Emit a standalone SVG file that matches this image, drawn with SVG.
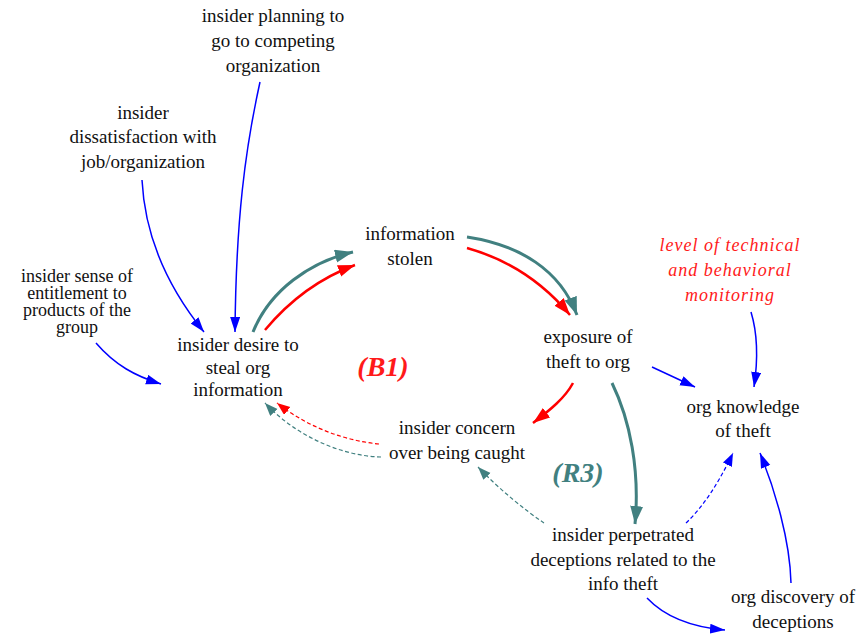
<svg xmlns="http://www.w3.org/2000/svg" width="863" height="635" viewBox="0 0 863 635">
  <defs>
    <marker id="ahBlue" markerUnits="userSpaceOnUse" markerWidth="16" markerHeight="12" refX="15" refY="5" orient="auto">
      <path d="M0,0 L15,5 L0,10 Z" fill="#0000ff"/>
    </marker>
    <marker id="ahTeal" markerUnits="userSpaceOnUse" markerWidth="20" markerHeight="14" refX="18" refY="6.5" orient="auto">
      <path d="M0,0 L18,6.5 L0,13 Z" fill="#418080"/>
    </marker>
    <marker id="ahRed" markerUnits="userSpaceOnUse" markerWidth="19" markerHeight="13" refX="17" refY="6" orient="auto">
      <path d="M0,0 L17,6 L0,12 Z" fill="#ff0000"/>
    </marker>
    <marker id="ahBlueS" markerUnits="userSpaceOnUse" markerWidth="14" markerHeight="11" refX="13" refY="5" orient="auto">
      <path d="M0,0 L13,5 L0,10 Z" fill="#0000ff"/>
    </marker>
    <marker id="ahTealS" markerUnits="userSpaceOnUse" markerWidth="14" markerHeight="11" refX="13" refY="5" orient="auto">
      <path d="M0,0 L13,5 L0,10 Z" fill="#418080"/>
    </marker>
    <marker id="ahRedS" markerUnits="userSpaceOnUse" markerWidth="14" markerHeight="11" refX="13" refY="5" orient="auto">
      <path d="M0,0 L13,5 L0,10 Z" fill="#ff0000"/>
    </marker>
  </defs>

  <!-- causal links: blue = simple influence, teal = R3 loop, red = B1 loop -->
  <g id="connectors" fill="none">
    <g stroke="#0000ff" stroke-width="1.5" marker-end="url(#ahBlue)">
      <path d="M142,180 C145,240 170,290 204,332"/>
      <path d="M260,82 C245,150 236,220 235,332"/>
      <path d="M96,343 C115,365 135,376 161,384"/>
      <path d="M652,367 L695,387"/>
      <path d="M751,312 C758,335 758,360 754,387"/>
      <path d="M791,583 C790,540 775,490 760,453"/>
      <path d="M647,598 C665,617 690,627 725,630"/>
    </g>
    <g stroke="#418080" stroke-width="3" marker-end="url(#ahTeal)">
      <path d="M253,332 C270,290 310,262 353,252"/>
      <path d="M467,237 C520,245 560,270 577,315"/>
      <path d="M612,383 C630,420 640,470 635,524"/>
    </g>
    <g stroke="#ff0000" stroke-width="2.5" marker-end="url(#ahRed)">
      <path d="M265,330 C290,300 320,278 355,265"/>
      <path d="M467,248 C510,260 545,285 570,315"/>
      <path d="M573,383 C565,398 550,410 533,423"/>
    </g>
    <g stroke-width="1.2" stroke-dasharray="4 2.5">
      <path stroke="#0000ff" d="M686,523 C705,505 720,480 733,453" marker-end="url(#ahBlueS)"/>
      <path stroke="#418080" d="M544,523 C525,510 500,490 478,467" marker-end="url(#ahTealS)"/>
      <path stroke="#ff0000" d="M379,444 C340,440 305,425 277,403" marker-end="url(#ahRedS)"/>
      <path stroke="#418080" d="M381,457 C340,456 295,435 265,403" marker-end="url(#ahTealS)"/>
    </g>
  </g>

  <g id="planning">
    <text font-family="Liberation Serif" font-size="19" text-anchor="middle" fill="#111" x="273" y="22">insider planning to</text>
    <text font-family="Liberation Serif" font-size="19" text-anchor="middle" fill="#111" x="273" y="47">go to competing</text>
    <text font-family="Liberation Serif" font-size="19" text-anchor="middle" fill="#111" x="273" y="72">organization</text>
  </g>
  <g id="dissatisfaction">
    <text font-family="Liberation Serif" font-size="19" text-anchor="middle" fill="#111" x="143" y="119">insider</text>
    <text font-family="Liberation Serif" font-size="19" text-anchor="middle" fill="#111" x="143" y="143">dissatisfaction with</text>
    <text font-family="Liberation Serif" font-size="19" text-anchor="middle" fill="#111" x="143" y="168">job/organization</text>
  </g>
  <g id="entitlement">
    <text font-family="Liberation Serif" font-size="18" text-anchor="middle" fill="#111" x="77" y="282">insider sense of</text>
    <text font-family="Liberation Serif" font-size="18" text-anchor="middle" fill="#111" x="77" y="299">entitlement to</text>
    <text font-family="Liberation Serif" font-size="18" text-anchor="middle" fill="#111" x="77" y="316">products of the</text>
    <text font-family="Liberation Serif" font-size="18" text-anchor="middle" fill="#111" x="77" y="333">group</text>
  </g>
  <g id="desire">
    <text font-family="Liberation Serif" font-size="19" text-anchor="middle" fill="#111" x="238" y="351">insider desire to</text>
    <text font-family="Liberation Serif" font-size="19" text-anchor="middle" fill="#111" x="238" y="374">steal org</text>
    <text font-family="Liberation Serif" font-size="19" text-anchor="middle" fill="#111" x="238" y="396">information</text>
  </g>
  <g id="stolen">
    <text font-family="Liberation Serif" font-size="19" text-anchor="middle" fill="#111" x="410" y="240">information</text>
    <text font-family="Liberation Serif" font-size="19" text-anchor="middle" fill="#111" x="410" y="265">stolen</text>
  </g>
  <g id="exposure">
    <text font-family="Liberation Serif" font-size="19" text-anchor="middle" fill="#111" x="588" y="343">exposure of</text>
    <text font-family="Liberation Serif" font-size="19" text-anchor="middle" fill="#111" x="588" y="368">theft to org</text>
  </g>
  <g id="knowledge">
    <text font-family="Liberation Serif" font-size="19" text-anchor="middle" fill="#111" x="743" y="413">org knowledge</text>
    <text font-family="Liberation Serif" font-size="19" text-anchor="middle" fill="#111" x="743" y="437">of theft</text>
  </g>
  <g id="concern">
    <text font-family="Liberation Serif" font-size="19" text-anchor="middle" fill="#111" x="457" y="434">insider concern</text>
    <text font-family="Liberation Serif" font-size="19" text-anchor="middle" fill="#111" x="457" y="459">over being caught</text>
  </g>
  <g id="deceptions">
    <text font-family="Liberation Serif" font-size="19" text-anchor="middle" fill="#111" x="623" y="541">insider perpetrated</text>
    <text font-family="Liberation Serif" font-size="19" text-anchor="middle" fill="#111" x="623" y="566">deceptions related to the</text>
    <text font-family="Liberation Serif" font-size="19" text-anchor="middle" fill="#111" x="623" y="590">info theft</text>
  </g>
  <g id="discovery">
    <text font-family="Liberation Serif" font-size="19" text-anchor="middle" fill="#111" x="793" y="603">org discovery of</text>
    <text font-family="Liberation Serif" font-size="19" text-anchor="middle" fill="#111" x="793" y="628">deceptions</text>
  </g>
  <g id="monitoring">
    <text font-family="Liberation Serif" font-size="18" font-style="italic" letter-spacing="1" text-anchor="middle" fill="#ff1a1a" x="730" y="251">level of technical</text>
    <text font-family="Liberation Serif" font-size="18" font-style="italic" letter-spacing="1" text-anchor="middle" fill="#ff1a1a" x="730" y="276">and behavioral</text>
    <text font-family="Liberation Serif" font-size="18" font-style="italic" letter-spacing="1" text-anchor="middle" fill="#ff1a1a" x="730" y="301">monitoring</text>
  </g>
  <g id="loopB1">
    <text font-family="Liberation Serif" font-size="28" font-style="italic" font-weight="bold" text-anchor="middle" fill="#ff1a1a" x="383" y="376">(B1)</text>
  </g>
  <g id="loopR3">
    <text font-family="Liberation Serif" font-size="28" font-style="italic" font-weight="bold" text-anchor="middle" fill="#418080" x="578" y="482">(R3)</text>
  </g>
</svg>
